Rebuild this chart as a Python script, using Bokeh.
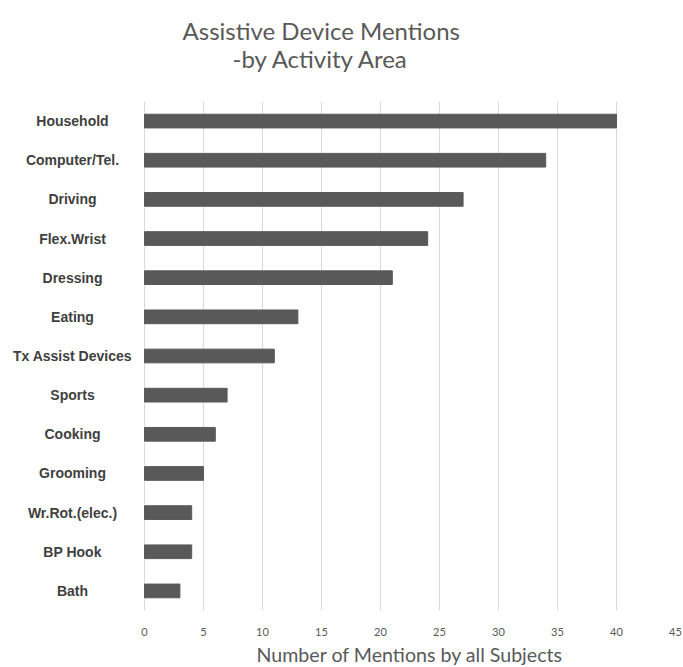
from bokeh.plotting import figure
from bokeh.models import Title, FactorRange, Range1d, FixedTicker
from bokeh.core.properties import value
from bokeh.embed import file_html
from bokeh.resources import INLINE

categories = ["Household", "Computer/Tel.", "Driving", "Flex.Wrist", "Dressing", "Eating",
              "Tx Assist Devices", "Sports", "Cooking", "Grooming", "Wr.Rot.(elec.)", "BP Hook", "Bath"]
mentions = [40, 34, 27, 24, 21, 13, 11, 7, 6, 5, 4, 4, 3]
x_ticks = [0, 5, 10, 15, 20, 25, 30, 35, 40, 45]

y_factors = list(reversed(categories))

# geometry: category labels live in the left part of the frame (x < 0)
X_MAX = 45
PLOT_LEFT_PX = 144
PLOT_W_PX = 531
ppu = PLOT_W_PX / X_MAX
x_min = -PLOT_LEFT_PX / ppu
label_x = -(PLOT_LEFT_PX - 72) / ppu

p = figure(width=683, height=667, y_range=FactorRange(factors=y_factors),
           x_range=Range1d(x_min, X_MAX), output_backend="svg", toolbar_location=None,
           min_border_left=0, min_border_right=8, min_border_top=101, min_border_bottom=0)
p.outline_line_color = None
p.background_fill_color = "white"
p.border_fill_color = "white"

p.hbar(y=categories, right=mentions, left=0, height=0.35, color="#595959")
p.text(x=[label_x] * len(categories), y=categories, text=categories,
       text_align="center", text_baseline="middle",
       text_font=value("Liberation Sans"), text_font_style="bold",
       text_font_size="14px", text_color="#404040")

p.yaxis.visible = False

p.xaxis.ticker = FixedTicker(ticks=x_ticks)
p.xaxis.axis_line_color = None
p.xaxis.major_tick_line_color = None
p.xaxis.minor_tick_line_color = None
p.xaxis.major_label_text_font = "Lato"
p.xaxis.major_label_text_font_size = "11px"
p.xaxis.major_label_text_color = "#595959"
p.xaxis.major_label_standoff = 11

p.xgrid.grid_line_color = "#d9d9d9"
p.xgrid.grid_line_width = 1
p.ygrid.grid_line_color = None

sub = Title(text="-by Activity Area", align="left", offset=232, standoff=58,
            text_font="Lato", text_font_size="24px", text_font_style="normal",
            text_color="#595959")
main = Title(text="Assistive Device Mentions", align="left", offset=182, standoff=-64,
             text_font="Lato", text_font_size="24px", text_font_style="normal",
             text_color="#595959")
p.add_layout(sub, "above")
p.add_layout(main, "above")

xlab = Title(text="Number of Mentions by all Subjects", align="left", offset=256, standoff=4,
             text_font="Lato", text_font_size="19.6px", text_font_style="normal",
             text_color="#595959")
p.add_layout(xlab, "below")

open("out.html", "w").write(file_html(p, INLINE))
